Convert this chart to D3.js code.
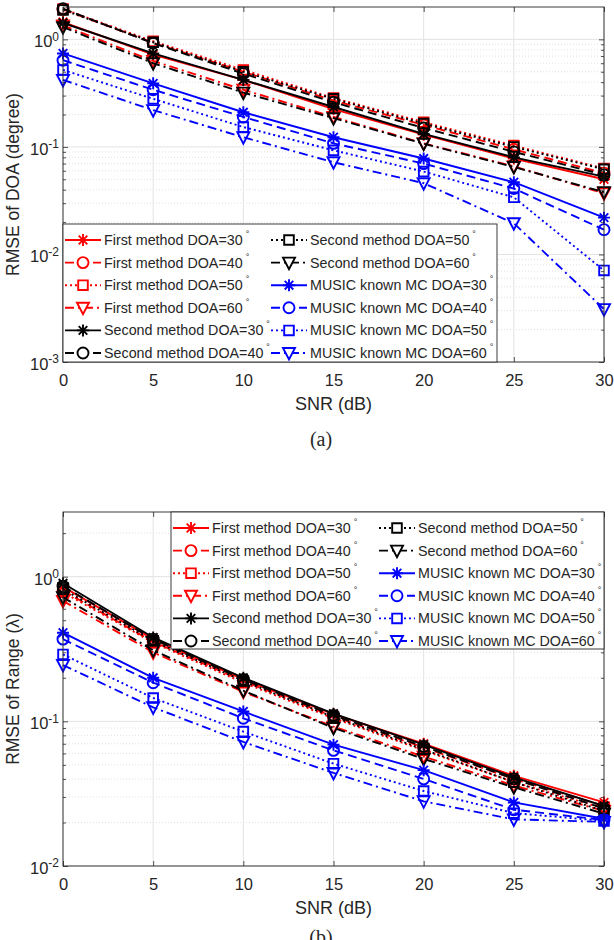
<!DOCTYPE html>
<html lang="en">
<head>
<script src="https://d3js.org/d3.v7.min.js"></script>
<style>
body { margin: 0; background: #fff; }
text { font-family: "Liberation Sans", Arial, sans-serif; fill: #262626; }
</style>
</head>
<body>
<div id="chart"></div>
<script>
// x values (dB)
var snr = [0, 5, 10, 15, 20, 25, 30];
var xTicks = [0, 5, 10, 15, 20, 25, 30];

// legend labels, order = plot order
var seriesNames = [
    "First method DOA=30", "First method DOA=40", "First method DOA=50", "First method DOA=60",
    "Second method DOA=30", "Second method DOA=40", "Second method DOA=50", "Second method DOA=60",
    "MUSIC known MC DOA=30", "MUSIC known MC DOA=40", "MUSIC known MC DOA=50", "MUSIC known MC DOA=60"
];

// (a) RMSE of DOA (degree)
var doaFirst30  = [1.45, 0.72, 0.42, 0.225, 0.130, 0.078, 0.050];
var doaFirst40  = [1.90, 0.93, 0.50, 0.270, 0.160, 0.095, 0.057];
var doaFirst50  = [1.92, 0.96, 0.52, 0.285, 0.170, 0.103, 0.063];
var doaFirst60  = [1.35, 0.63, 0.34, 0.190, 0.108, 0.066, 0.037];
var doaSecond30 = [1.42, 0.74, 0.42, 0.235, 0.132, 0.080, 0.053];
var doaSecond40 = [1.93, 0.92, 0.48, 0.260, 0.150, 0.090, 0.055];
var doaSecond50 = [1.88, 0.94, 0.50, 0.280, 0.165, 0.100, 0.062];
var doaSecond60 = [1.30, 0.60, 0.32, 0.185, 0.107, 0.065, 0.038];
var doaMusic30  = [0.74, 0.39, 0.21, 0.123, 0.078, 0.047, 0.022];
var doaMusic40  = [0.64, 0.34, 0.19, 0.108, 0.070, 0.041, 0.017];
var doaMusic50  = [0.52, 0.28, 0.153, 0.093, 0.059, 0.034, 0.0071];
var doaMusic60  = [0.42, 0.22, 0.123, 0.072, 0.046, 0.0195, 0.0031];
var doaTicks = [0.001, 0.01, 0.1, 1];

// (b) RMSE of Range (lambda)
var rngFirst30  = [0.85, 0.37, 0.195, 0.112, 0.070, 0.042, 0.0275];
var rngFirst40  = [0.80, 0.355, 0.19, 0.108, 0.066, 0.040, 0.026];
var rngFirst50  = [0.78, 0.35, 0.185, 0.105, 0.063, 0.038, 0.025];
var rngFirst60  = [0.68, 0.30, 0.16, 0.092, 0.057, 0.036, 0.024];
var rngSecond30 = [0.90, 0.38, 0.20, 0.113, 0.069, 0.041, 0.026];
var rngSecond40 = [0.86, 0.37, 0.195, 0.110, 0.067, 0.040, 0.025];
var rngSecond50 = [0.82, 0.36, 0.19, 0.107, 0.064, 0.038, 0.024];
var rngSecond60 = [0.72, 0.31, 0.163, 0.090, 0.055, 0.035, 0.023];
var rngMusic30  = [0.41, 0.20, 0.117, 0.069, 0.046, 0.0275, 0.0212];
var rngMusic40  = [0.37, 0.185, 0.105, 0.063, 0.040, 0.0245, 0.0208];
var rngMusic50  = [0.29, 0.145, 0.085, 0.051, 0.033, 0.0232, 0.0205];
var rngMusic60  = [0.245, 0.125, 0.072, 0.044, 0.028, 0.021, 0.0202];
var rngTicks = [0.01, 0.1, 1];

// styles (matlab-ish)
var colors = ["#ff0000", "#ff0000", "#ff0000", "#ff0000",
              "#000000", "#000000", "#000000", "#000000",
              "#0000ff", "#0000ff", "#0000ff", "#0000ff"];
var dashes = [null, "9,5", "2,3", "9,4,2,4"];
var markers = ["star", "circle", "square", "tri"];

var svg = d3.select("#chart").append("svg")
    .attr("width", 614)
    .attr("height", 940);

function markerPath(type) {
    if (type == "star") return "M-6,0H6M0,-6V6M-4.3,-4.3L4.3,4.3M-4.3,4.3L4.3,-4.3";
    if (type == "circle") return "M5.5,0A5.5,5.5 0 1,1 -5.5,0A5.5,5.5 0 1,1 5.5,0Z";
    if (type == "square") return "M-4.8,-4.8H4.8V4.8H-4.8Z";
    return "M-6,-5H6L0,6.5Z";
}

function drawPanel(p) {
    var x = d3.scaleLinear().domain([0, 30]).range([p.left, p.right]);
    var y = d3.scaleLog().domain(p.yDomain).range([p.bottom, p.top]);
    var g = svg.append("g");

    // minor y values
    var minor = [];
    p.yTicks.forEach(function(t) {
        for (var k = 2; k <= 9; k++) {
            var v = t * k;
            if (v < p.yDomain[1]) minor.push(v);
        }
    });

    // grid
    g.selectAll(".ymin").data(minor).enter().append("line")
        .attr("x1", p.left).attr("x2", p.right)
        .attr("y1", function(d) { return y(d); }).attr("y2", function(d) { return y(d); })
        .attr("stroke", "#d8d8d8").attr("stroke-width", 0.8).attr("stroke-dasharray", "1,2");
    g.selectAll(".ymaj").data(p.yTicks).enter().append("line")
        .attr("x1", p.left).attr("x2", p.right)
        .attr("y1", function(d) { return y(d); }).attr("y2", function(d) { return y(d); })
        .attr("stroke", "#e3e3e3").attr("stroke-width", 1);
    g.selectAll(".xmaj").data(xTicks).enter().append("line")
        .attr("y1", p.top).attr("y2", p.bottom)
        .attr("x1", function(d) { return x(d); }).attr("x2", function(d) { return x(d); })
        .attr("stroke", "#e3e3e3").attr("stroke-width", 1);

    // series
    p.data.forEach(function(vals, i) {
        var line = d3.line()
            .x(function(d, j) { return x(snr[j]); })
            .y(function(d) { return y(d); });
        g.append("path")
            .datum(vals)
            .attr("d", line)
            .attr("fill", "none")
            .attr("stroke", colors[i])
            .attr("stroke-width", 1.9)
            .attr("stroke-dasharray", dashes[i % 4]);
        g.selectAll(".m" + i).data(vals).enter().append("path")
            .attr("d", markerPath(markers[i % 4]))
            .attr("transform", function(d, j) { return "translate(" + x(snr[j]) + "," + y(d) + ")"; })
            .attr("fill", "none")
            .attr("stroke", colors[i])
            .attr("stroke-width", 1.9);
    });

    // axes with inward ticks
    var xb = g.append("g")
        .attr("transform", "translate(0," + p.bottom + ")")
        .call(d3.axisBottom(x).tickValues(xTicks).tickSizeInner(-5).tickSizeOuter(0).tickPadding(12));
    g.append("g")
        .attr("transform", "translate(0," + p.top + ")")
        .call(d3.axisTop(x).tickValues(xTicks).tickSizeInner(-5).tickSizeOuter(0).tickFormat(""));
    var yl = g.append("g")
        .attr("transform", "translate(" + p.left + ",0)")
        .call(d3.axisLeft(y).tickValues(p.yTicks).tickSizeInner(-5).tickSizeOuter(0).tickPadding(8).tickFormat(""));
    g.append("g")
        .attr("transform", "translate(" + p.right + ",0)")
        .call(d3.axisRight(y).tickValues(p.yTicks).tickSizeInner(-5).tickSizeOuter(0).tickFormat(""));
    g.append("g")
        .attr("transform", "translate(" + p.left + ",0)")
        .call(d3.axisLeft(y).tickValues(minor).tickSizeInner(-3).tickSizeOuter(0).tickFormat(""));
    g.append("g")
        .attr("transform", "translate(" + p.right + ",0)")
        .call(d3.axisRight(y).tickValues(minor).tickSizeInner(-3).tickSizeOuter(0).tickFormat(""));

    g.selectAll(".domain").remove();
    g.selectAll(".tick line").attr("stroke", "#262626").attr("stroke-width", 0.8);

    xb.selectAll("text")
        .style("font-size", "16.5px")
        .attr("fill", "#262626")
        .attr("font-family", "Liberation Sans, Arial, sans-serif");

    // y tick labels as 10^n
    yl.selectAll(".tick text").each(function(d) {
        var t = d3.select(this)
            .attr("x", -4)
            .attr("dy", "0.45em")
            .attr("text-anchor", "end")
            .attr("fill", "#262626")
            .attr("font-family", "Liberation Sans, Arial, sans-serif")
            .style("font-size", "16.5px");
        t.text("10");
        t.append("tspan")
            .attr("dy", "-0.55em")
            .style("font-size", "12px")
            .text(String(Math.round(Math.log10(d))));
    });

    // box
    g.append("rect")
        .attr("x", p.left).attr("y", p.top)
        .attr("width", p.right - p.left).attr("height", p.bottom - p.top)
        .attr("fill", "none").attr("stroke", "#262626").attr("stroke-width", 0.9);

    // legend
    var lg = g.append("g").attr("transform", "translate(" + p.legX + "," + p.legY + ")");
    lg.append("rect")
        .attr("width", p.legW).attr("height", p.legH)
        .attr("fill", "#fff").attr("stroke", "#262626").attr("stroke-width", 0.9);
    seriesNames.forEach(function(name, i) {
        var col = i < 6 ? 0 : 1;
        var row = i < 6 ? i : i - 6;
        var x0 = col == 0 ? 2 : 208;
        var yy = 16 + row * 22.6;
        lg.append("line")
            .attr("x1", x0).attr("x2", x0 + 36)
            .attr("y1", yy).attr("y2", yy)
            .attr("stroke", colors[i]).attr("stroke-width", 1.9)
            .attr("stroke-dasharray", dashes[i % 4]);
        lg.append("path")
            .attr("d", markerPath(markers[i % 4]))
            .attr("transform", "translate(" + (x0 + 18) + "," + yy + ")")
            .attr("fill", "#fff")
            .attr("stroke", colors[i]).attr("stroke-width", 1.9);
        var tx = lg.append("text")
            .attr("x", x0 + 39).attr("y", yy + 5)
            .style("font-size", "14.3px")
            .attr("fill", "#000")
            .text(name);
        tx.append("tspan")
            .attr("dx", 3).attr("dy", -8)
            .style("font-size", "9px")
            .text("\u00b0");
    });

    // labels
    svg.append("text")
        .attr("transform", "translate(" + p.yLabelX + "," + (p.top + p.bottom) / 2 + ") rotate(-90)")
        .attr("text-anchor", "middle")
        .style("font-size", "17.5px")
        .text(p.yLabel);
    svg.append("text")
        .attr("x", (p.left + p.right) / 2)
        .attr("y", p.bottom + 48)
        .attr("text-anchor", "middle")
        .style("font-size", "18px")
        .text("SNR (dB)");
    svg.append("text")
        .attr("x", 321)
        .attr("y", p.captionY)
        .attr("text-anchor", "middle")
        .style("font-family", "Liberation Serif, Times New Roman, serif")
        .style("font-size", "20px")
        .attr("fill", "#000")
        .text(p.caption);
}

drawPanel({
    left: 63, right: 604, top: 7, bottom: 362,
    yDomain: [0.001, 2], yTicks: doaTicks,
    data: [doaFirst30, doaFirst40, doaFirst50, doaFirst60,
           doaSecond30, doaSecond40, doaSecond50, doaSecond60,
           doaMusic30, doaMusic40, doaMusic50, doaMusic60],
    legX: 63, legY: 224, legW: 434, legH: 138,
    yLabel: "RMSE of DOA (degree)", yLabelX: 19, caption: "(a)", captionY: 446
});

drawPanel({
    left: 63, right: 604, top: 512, bottom: 866,
    yDomain: [0.01, 2.8], yTicks: rngTicks,
    data: [rngFirst30, rngFirst40, rngFirst50, rngFirst60,
           rngSecond30, rngSecond40, rngSecond50, rngSecond60,
           rngMusic30, rngMusic40, rngMusic50, rngMusic60],
    legX: 171, legY: 512, legW: 433, legH: 137,
    yLabel: "RMSE of Range (\u03bb)", yLabelX: 19, caption: "(b)", captionY: 944
});
</script>
</body>
</html>
